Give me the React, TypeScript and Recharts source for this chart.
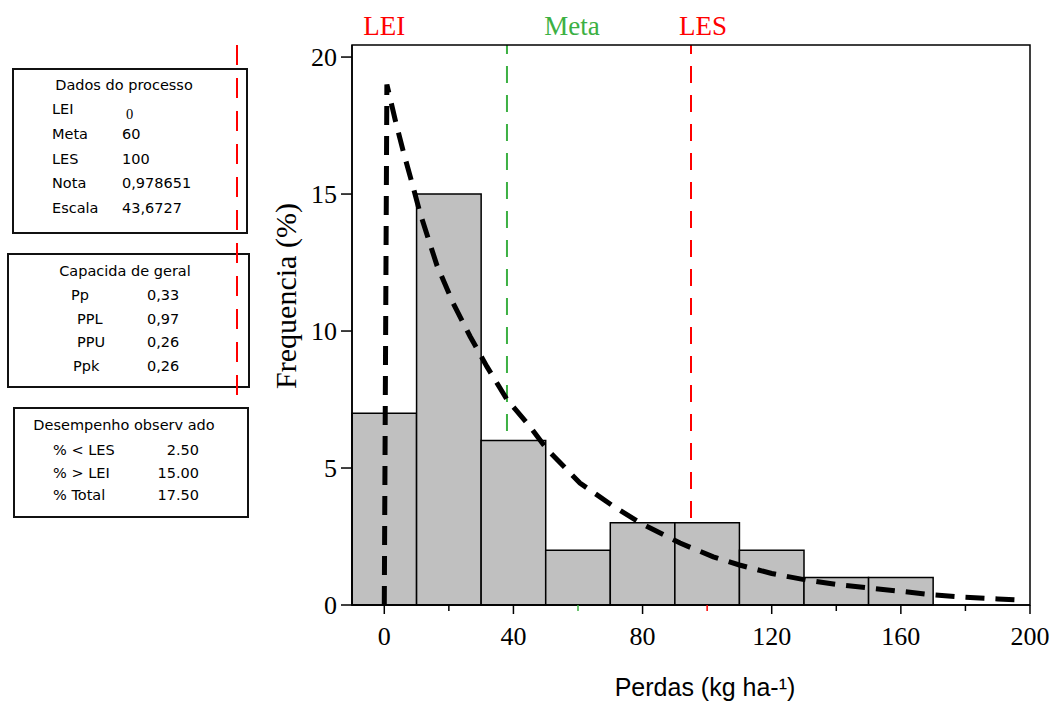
import React from 'react';
import { ComposedChart, Line, XAxis, YAxis, ReferenceArea, ReferenceLine } from 'recharts';

// histogram bins (kg/ha) and frequency (%)
const binStart = [-10, 10, 30, 50, 70, 90, 110, 130, 150];
const binEnd = [10, 30, 50, 70, 90, 110, 130, 150, 170];
const binFreq = [7, 15, 6, 2, 3, 3, 2, 1, 1];

// fitted curve
const curveX = [0, 0.8, 3.4, 6, 8.6, 11.1, 16.3, 21.4, 26.6, 31.8, 38, 45.2, 50.3, 60.6, 71, 79.2, 91.6, 101.9, 110, 120, 130.8, 140, 150.4, 160, 170, 180, 190, 198];
const curveY = [0, 19, 17.7, 16.5, 15.4, 14.3, 12.4, 11.0, 9.8, 8.7, 7.5, 6.5, 5.7, 4.45, 3.6, 3.0, 2.26, 1.76, 1.46, 1.15, 0.91, 0.75, 0.62, 0.5, 0.37, 0.28, 0.22, 0.18];

const xTicks = [0, 20, 40, 60, 80, 100, 120, 140, 160, 180, 200];
const yTicks = [0, 5, 10, 15, 20];

const specNames = ['LEI', 'Meta', 'LES'];
const specPos = [0, 38, 95];

const processLabels = ['LEI', 'Meta', 'LES', 'Nota', 'Escala'];
const processValues = ['0', '60', '100', '0,978651', '43,6727'];
const capLabels = ['Pp', 'PPL', 'PPU', 'Ppk'];
const capValues = ['0,33', '0,97', '0,26', '0,26'];
const perfLabels = ['% < LES', '% > LEI', '% Total'];
const perfValues = ['2.50', '15.00', '17.50'];

const serif = '"Liberation Serif", "Times New Roman", serif';
const sans = '"DejaVu Sans", Verdana, sans-serif';
const RED = '#ff0000';
const GREEN = '#3cb043';

const curveData = curveX.map((x, i) => ({ x, y: curveY[i] }));

function XTick(props: any) {
  const { x, y, payload } = props;
  const v = payload.value;
  const major = v % 40 === 0;
  const color = v === 60 ? GREEN : v === 100 ? RED : '#000';
  return (
    <g>
      <line x1={x} x2={x} y1={y} y2={y + (major ? 9 : 6)} stroke={color} strokeWidth={1.5} />
      {major && (
        <text x={x} y={y + 40} textAnchor="middle" fontFamily={serif} fontSize={26} fill="#000">
          {v}
        </text>
      )}
    </g>
  );
}

function YTick(props: any) {
  const { x, y, payload } = props;
  return (
    <g>
      <line x1={x - 11} x2={x} y1={y} y2={y} stroke="#000" strokeWidth={1.5} />
      <text x={x - 15} y={y} dy="0.34em" textAnchor="end" fontFamily={serif} fontSize={26} fill="#000">
        {payload.value}
      </text>
    </g>
  );
}

function XLabel(props: any) {
  const vb = props.viewBox || { x: 352, y: 605, width: 678, height: 96 };
  return (
    <text x={vb.x + vb.width / 2 + 14} y={vb.y + 91} textAnchor="middle" fontFamily='"Liberation Sans", Arial, sans-serif' fontSize={25} fill="#000">
      Perdas (kg ha-¹)
    </text>
  );
}

function YLabel(props: any) {
  const vb = props.viewBox || { x: 217, y: 45, width: 135, height: 560 };
  const cx = vb.x + 68;
  const cy = vb.y + 251;
  return (
    <text x={cx} y={cy} transform={`rotate(-90, ${cx}, ${cy})`} textAnchor="middle" dominantBaseline="central" fontFamily={serif} fontSize={30} fill="#000">
      Frequencia (%)
    </text>
  );
}

function SpecLabel(props: any) {
  const { viewBox, text, color, shift } = props;
  if (!viewBox) return null;
  return (
    <text x={viewBox.x + shift} y={viewBox.y - 10} textAnchor="middle" fontFamily={serif} fontSize={27} fill={color}>
      {text}
    </text>
  );
}

function Txt({ x, y, children, anchor = 'left', font = sans }: any) {
  const shift = anchor === 'right' ? 'translateX(-100%)' : anchor === 'center' ? 'translateX(-50%)' : undefined;
  return (
    <div style={{ position: 'absolute', left: x, top: y - 10, lineHeight: '20px', fontSize: 14.5, fontFamily: font, whiteSpace: 'nowrap', transform: shift, color: '#000' }}>
      {children}
    </div>
  );
}

function Box({ left, top, width, height }: any) {
  return <div style={{ position: 'absolute', left, top, width, height, border: '2px solid #111', boxSizing: 'border-box' }} />;
}

function Panels() {
  const capIndent = [71, 77, 77, 73];
  return (
    <>
      <Box left={12} top={68} width={236} height={166} />
      <Txt x={124} y={85} anchor="center">Dados do processo</Txt>
      {processLabels.map((l, i) => (
        <React.Fragment key={l}>
          <Txt x={52} y={109 + i * 24.8}>{l}</Txt>
          {processValues[i] === '0' ? (
            <Txt x={126} y={114 + i * 24.8} font={serif}>{processValues[i]}</Txt>
          ) : (
            <Txt x={122} y={109 + i * 24.8}>{processValues[i]}</Txt>
          )}
        </React.Fragment>
      ))}

      <Box left={7} top={253} width={243} height={135} />
      <Txt x={125} y={271} anchor="center">Capacida de geral</Txt>
      {capLabels.map((l, i) => (
        <React.Fragment key={l}>
          <Txt x={capIndent[i]} y={295 + i * 23.7}>{l}</Txt>
          <Txt x={147} y={295 + i * 23.7}>{capValues[i]}</Txt>
        </React.Fragment>
      ))}

      <Box left={13} top={407} width={236} height={111} />
      <Txt x={124} y={425} anchor="center">Desempenho observ ado</Txt>
      {perfLabels.map((l, i) => (
        <React.Fragment key={l}>
          <Txt x={53} y={450 + i * 22.5}>{l}</Txt>
          <Txt x={199} y={450 + i * 22.5} anchor="right">{perfValues[i]}</Txt>
        </React.Fragment>
      ))}

      <svg width={1054} height={701} style={{ position: 'absolute', left: 0, top: 0, pointerEvents: 'none' }}>
        <line x1={237} x2={237} y1={45} y2={395} stroke={RED} strokeWidth={2} strokeDasharray="20 13" />
      </svg>
    </>
  );
}

export default function App() {
  return (
    <div style={{ position: 'absolute', left: 0, top: 0, width: 1054, height: 701, background: '#fff' }}>
      <ComposedChart width={1054} height={701} data={curveData} margin={{ top: 45, right: 24, bottom: 0, left: 217 }}>
        <XAxis
          dataKey="x"
          type="number"
          domain={[-10, 200]}
          ticks={xTicks}
          interval={0}
          height={96}
          tickLine={false}
          tickSize={0}
          tickMargin={0}
          tick={<XTick />}
          axisLine={{ stroke: '#000', strokeWidth: 1.5 }}
          allowDataOverflow
          label={<XLabel />}
        />
        <YAxis
          type="number"
          domain={[0, 20.44]}
          ticks={yTicks}
          interval={0}
          width={135}
          tickLine={false}
          tickSize={0}
          tickMargin={0}
          tick={<YTick />}
          axisLine={{ stroke: '#000', strokeWidth: 1.5 }}
          allowDataOverflow
          label={<YLabel />}
        />
        {specNames.map((name, i) => (
          <ReferenceLine
            key={name}
            x={specPos[i]}
            stroke={name === 'Meta' ? GREEN : RED}
            strokeOpacity={name === 'LEI' ? 0 : 1}
            strokeWidth={2}
            strokeDasharray="17 12"
            zIndex={50}
            label={<SpecLabel text={name} color={name === 'Meta' ? GREEN : RED} shift={name === 'Meta' ? 65 : name === 'LES' ? 12 : 0} />}
          />
        ))}
        {binFreq.map((f, i) => (
          <ReferenceArea
            key={i}
            x1={binStart[i]}
            x2={binEnd[i]}
            y1={0}
            y2={f}
            fill="#c0c0c0"
            fillOpacity={1}
            stroke="#000"
            strokeWidth={1.5}
            zIndex={100}
          />
        ))}
        <Line
          dataKey="y"
          type="linear"
          stroke="#000"
          strokeWidth={5}
          strokeDasharray="19 11"
          dot={false}
          activeDot={false}
          isAnimationActive={false}
        />
        <ReferenceArea x1={-10} x2={200} y1={0} y2={20.44} fill="none" stroke="#000" strokeWidth={1.5} zIndex={450} />
      </ComposedChart>
      <Panels />
    </div>
  );
}
